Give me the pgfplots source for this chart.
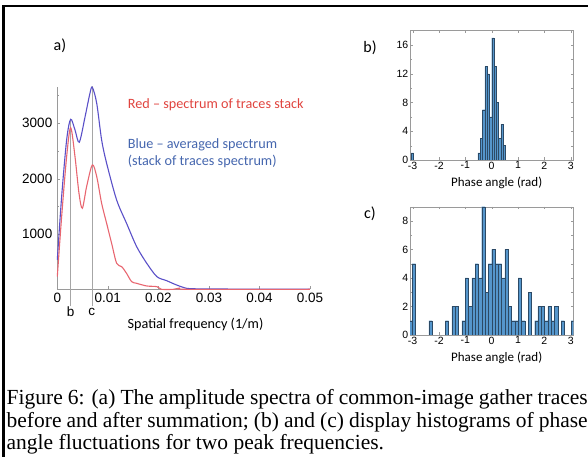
\documentclass[border=0pt]{standalone}
\usepackage{fontspec}
\setmainfont{Liberation Serif}
\newfontfamily\carlito{Carlito}
\newfontfamily\arial{Liberation Sans}
\usepackage{pgfplots}
\pgfplotsset{compat=1.18}
\definecolor{bluecurve}{HTML}{5A50C8}
\definecolor{redcurve}{HTML}{E86670}
\definecolor{redtext}{HTML}{E0443F}
\definecolor{bluetext}{HTML}{4566AE}
\definecolor{barfill}{HTML}{5596CC}
\definecolor{baredge}{HTML}{2C4A66}
\definecolor{axgray}{HTML}{9A9A9A}
\begin{document}
\begin{tikzpicture}[x=1pt,y=1pt]
\useasboundingbox (0,0) rectangle (588,457);
\clip (0,0) rectangle (588,457);
% frame
\draw[line width=2.6pt] (3.5,-5) -- (3.5,451) -- (600,451);

% ---------- panel a ----------
\begin{axis}[
  at={(57.3pt,167.7pt)}, anchor=south west, scale only axis,
  width=252.7pt, height=202pt,
  xmin=0, xmax=0.05, ymin=0, ymax=3650,
  axis lines*=left, axis line style={draw=axgray,-},
  scaled x ticks=false, scaled y ticks=false,
  xtick={0,0.01,0.02,0.03,0.04,0.05},
  xticklabels={0,0.01,0.02,0.03,0.04,0.05},
  ytick={1000,2000,3000}, yticklabels={1000,2000,3000},
  minor ytick={500,1500,2500,3500},
  tick style={axgray}, tick align=inside,
  major tick length=3pt, minor tick length=2pt,
  /pgf/number format/assume math mode=true,
  ticklabel style={font=\arial\fontsize{13.5}{15}\selectfont},
  yticklabel style={xshift=-1.5pt},
  clip=false,
]
\draw[gray!70] (axis cs:0.00265,-310) -- (axis cs:0.00265,3070);
\draw[gray!70] (axis cs:0.00693,-310) -- (axis cs:0.00693,3680);
\addplot[bluecurve, line width=1.1pt, smooth, tension=0.5] coordinates {
(0,530) (0.00086,1675) (0.00185,2700) (0.00264,3072) (0.0035,2880)
(0.00435,2657) (0.0055,3120) (0.00646,3542) (0.00693,3650) (0.0078,3361)
(0.00877,2700) (0.00976,2277) (0.01174,1614) (0.0137,1193) (0.0157,771)
(0.0177,470) (0.0197,229) (0.0216,157) (0.0236,78) (0.0256,18)
(0.028,8) (0.032,5) (0.04,3) (0.05,0)};
\addplot[redcurve, line width=1.1pt, smooth, tension=0.5] coordinates {
(0,229) (0.00086,1313) (0.00185,2398) (0.00264,2922) (0.0035,2398)
(0.00429,1735) (0.00495,1464) (0.0058,1855) (0.00693,2247) (0.0078,2036)
(0.00877,1554) (0.00976,1193) (0.01075,831) (0.01174,470) (0.01273,410)
(0.0137,289) (0.0147,139) (0.0157,108) (0.0177,60) (0.0197,48)
(0.0206,0) (0.023,0) (0.0243,24) (0.0256,0) (0.05,0)};
\end{axis}
\node[font=\arial\fontsize{13.5}{15}\selectfont] at (70.7,457-311.7) {b};
\node[font=\arial\fontsize{13.5}{15}\selectfont] at (91.8,457-311.7) {c};
\node[font=\carlito\fontsize{14.2}{16}\selectfont] at (195.5,457-324) {Spatial frequency (1/m)};
\node[font=\carlito\fontsize{16}{18}\selectfont] at (60,457-46) {a)};
\node[anchor=west, text=redtext, font=\carlito\fontsize{14.2}{16}\selectfont, inner sep=0] at (127.7,457-105) {Red – spectrum of traces stack};
\node[anchor=west, text=bluetext, font=\carlito\fontsize{14.2}{16}\selectfont, inner sep=0] at (127.7,457-145) {Blue – averaged spectrum};
\node[anchor=west, text=bluetext, font=\carlito\fontsize{14.2}{16}\selectfont, inner sep=0] at (127.7,457-161.7) {(stack of traces spectrum)};

% ---------- panel b ----------
\begin{axis}[
  at={(410pt,297pt)}, anchor=south west, scale only axis,
  width=163.3pt, height=129.3pt,
  xmin=-3.1, xmax=3.1, ymin=0, ymax=18,
  xtick={-3,-2,-1,0,1,2,3}, ytick={0,4,8,12,16}, minor ytick={2,6,10,14},
  axis line style={draw=axgray},
  tick style={axgray}, tick align=inside,
  major tick length=2.5pt, minor tick length=2pt,
  /pgf/number format/assume math mode=true,
  ticklabel style={font=\arial\fontsize{10.5}{12}\selectfont, inner sep=1.5pt},
]
\addplot[ybar, bar width=0.0873, fill=barfill, draw=baredge, line width=0.3pt] coordinates {
(-3.0107,1)
(-0.4800,1) (-0.3927,3) (-0.3054,7) (-0.2182,13) (-0.1309,12) (-0.0436,6)
(0.0436,17) (0.1309,13) (0.2182,8) (0.3054,3) (0.3927,5) (0.4800,2)};
\end{axis}
\node[font=\carlito\fontsize{13}{15}\selectfont] at (496.7,457-183.3) {Phase angle (rad)};
\node[font=\carlito\fontsize{16}{18}\selectfont] at (370,457-48) {b)};

% ---------- panel c ----------
\begin{axis}[
  at={(410pt,122pt)}, anchor=south west, scale only axis,
  width=163.3pt, height=128.3pt,
  xmin=-3.1, xmax=3.1, ymin=0, ymax=9,
  xtick={-3,-2,-1,0,1,2,3}, ytick={0,2,4,6,8}, minor ytick={1,3,5,7},
  axis line style={draw=axgray},
  tick style={axgray}, tick align=inside,
  major tick length=2.5pt, minor tick length=2pt,
  /pgf/number format/assume math mode=true,
  ticklabel style={font=\arial\fontsize{10.5}{12}\selectfont, inner sep=1.5pt},
]
\addplot[ybar, bar width=0.12566, fill=barfill, draw=baredge, line width=0.3pt] coordinates {
(-3.0788,1) (-2.9531,5) (-2.3248,1) (-1.6965,1) (-1.4451,2) (-1.3195,2)
(-1.0681,1) (-0.9425,4) (-0.8168,2) (-0.6912,4) (-0.5655,5) (-0.4398,4)
(-0.3142,9) (-0.1885,3) (-0.0628,5) (0.0628,6) (0.1885,5) (0.3142,5)
(0.4398,4) (0.5655,6) (0.6912,2) (0.8168,1) (0.9425,1) (1.0681,4)
(1.1938,1) (1.4451,3) (1.6965,1) (1.8221,2) (1.9478,2) (2.0735,1)
(2.1991,2) (2.3248,1) (2.4504,2) (2.7018,1) (3.0788,1)};
\end{axis}
\node[font=\carlito\fontsize{13}{15}\selectfont] at (496.7,457-358.3) {Phase angle (rad)};
\node[font=\carlito\fontsize{16}{18}\selectfont] at (370,457-214) {c)};

% ---------- caption ----------
\begin{scope}[font=\fontsize{21.5}{24}\selectfont]
\node[anchor=base west, inner sep=0] at (6.5,457-404.6) {\makebox[581pt][s]{Figure 6: (a) The amplitude spectra of common-image gather traces}};
\node[anchor=base west, inner sep=0] at (6.5,457-427.3) {\makebox[581pt][s]{before and after summation; (b) and (c) display histograms of phase}};
\node[anchor=base west, inner sep=0] at (6.5,457-450) {angle fluctuations for two peak frequencies.};
\end{scope}
\end{tikzpicture}
\end{document}
